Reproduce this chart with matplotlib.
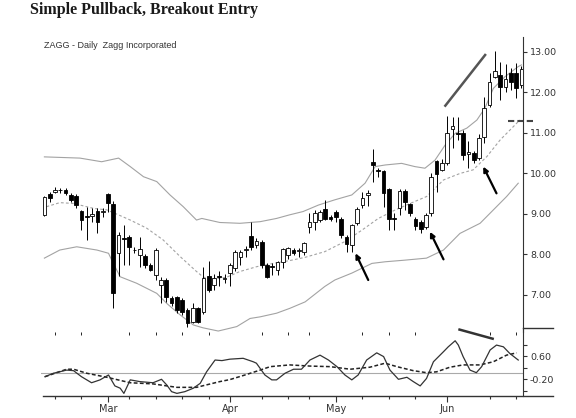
import matplotlib
matplotlib.use("Agg")
import matplotlib.pyplot as plt
import numpy as np
import pandas as pd
from matplotlib.lines import Line2D

# ZAGG daily bars, 10 Feb - 21 Jun 2011 (exchange holidays removed)
holidays = ["2011-02-21", "2011-04-22", "2011-05-30"]
dates = pd.bdate_range("2011-02-10", "2011-06-21").drop(pd.to_datetime(holidays))

opens = [8.98, 9.49, 9.54, 9.58, 9.59, 9.47, 9.45, 9.07, 8.95, 8.95, 9.07, 9.04,
         9.49, 9.24, 8.03, 8.40, 8.42, 8.12, 7.99, 7.97, 7.74, 7.49, 7.25, 7.36,
         6.92, 6.94, 6.88, 6.63, 6.34, 6.67, 6.59, 7.47, 7.25, 7.46, 7.40,
         7.54, 7.66, 7.95, 8.12, 8.46, 8.23, 8.32, 7.74, 7.72, 7.62, 7.82, 7.99,
         8.11, 8.09, 8.07, 8.69, 8.81, 8.85, 9.12, 8.92,
         9.06, 8.87, 8.44, 8.23, 8.77, 9.22, 9.48, 10.28, 10.08, 10.05, 9.61, 8.90,
         9.14, 9.57, 9.25, 8.87, 8.79, 8.67, 9.02, 10.30, 10.09,
         10.27, 11.09, 11.00, 10.99, 10.48, 10.50, 10.38, 10.91, 11.69, 12.39, 12.43,
         12.14, 12.49, 12.49, 12.19]
highs = [9.44, 9.54, 9.67, 9.64, 9.63, 9.52, 9.49, 9.10, 9.18, 9.15, 9.15, 9.15,
         9.52, 9.32, 8.56, 8.73, 8.48, 8.18, 8.44, 8.02, 7.80, 8.16, 7.45, 7.42,
         6.97, 6.97, 6.93, 6.68, 6.79, 6.70, 7.70, 7.85, 7.52, 7.58, 7.52,
         7.80, 8.10, 8.12, 8.20, 8.81, 8.40, 8.36, 7.78, 7.78, 7.85, 8.16, 8.18,
         8.15, 8.15, 8.30, 9.02, 9.10, 9.10, 9.35, 8.97,
         9.10, 8.92, 8.48, 8.75, 9.18, 9.55, 9.60, 10.60, 10.14, 10.09, 9.63, 9.02,
         9.61, 9.61, 9.28, 8.93, 8.84, 9.02, 10.00, 10.33, 10.35,
         11.42, 11.40, 11.39, 11.07, 10.79, 10.55, 10.97, 11.90, 12.49, 13.03, 12.76,
         12.70, 12.60, 12.72, 12.65]
lows = [8.96, 9.30, 9.51, 9.51, 9.47, 9.30, 9.15, 8.60, 8.36, 8.81, 8.53, 8.93,
        9.06, 6.68, 7.47, 7.74, 7.74, 8.03, 7.70, 7.66, 7.58, 7.37, 6.80, 6.83,
        6.73, 6.55, 6.50, 6.22, 6.30, 6.30, 6.53, 7.08, 7.12, 7.21, 7.30,
        7.21, 7.60, 7.75, 7.95, 8.11, 8.15, 7.66, 7.42, 7.50, 7.50, 7.66, 7.88,
        7.99, 7.95, 7.99, 8.52, 8.60, 8.80, 8.85, 8.83,
        8.80, 8.40, 8.07, 8.05, 8.73, 9.14, 9.20, 9.80, 9.92, 9.18, 8.60, 8.60,
        8.98, 9.10, 8.95, 8.60, 8.52, 8.62, 8.95, 9.55, 10.05,
        10.21, 10.62, 10.83, 10.33, 10.13, 10.25, 10.33, 10.75, 11.65, 12.35, 11.81,
        12.00, 12.05, 11.86, 12.10]
closes = [9.42, 9.40, 9.60, 9.60, 9.51, 9.35, 9.22, 8.85, 8.93, 9.00, 8.81, 9.07,
          9.26, 7.04, 8.48, 8.38, 8.19, 8.10, 8.14, 7.74, 7.62, 8.11, 7.37, 6.95,
          6.80, 6.63, 6.59, 6.32, 6.67, 6.34, 7.41, 7.12, 7.41, 7.44, 7.42,
          7.74, 8.07, 8.07, 8.14, 8.19, 8.34, 7.74, 7.44, 7.68, 7.82, 8.13, 8.15,
          8.04, 8.11, 8.28, 8.81, 9.02, 9.06, 8.87, 8.87,
          8.92, 8.48, 8.26, 8.73, 9.12, 9.40, 9.52, 10.20, 10.06, 9.53, 8.87, 8.88,
          9.57, 9.30, 9.02, 8.70, 8.62, 8.98, 9.92, 9.99, 10.27,
          11.01, 11.17, 10.98, 10.46, 10.54, 10.33, 10.87, 11.61, 12.27, 12.54, 12.14,
          12.33, 12.27, 12.10, 12.57]

# Bollinger bands and 20-day average (bar index, price)
upper_x = [0, 6.7, 10.8, 14, 16.2, 18.7, 21.2, 23.7, 26.2, 28.7, 29.7, 33.1, 36.9,
           40.7, 43.8, 46.3, 48.8, 51.7, 54.8, 58, 60.5, 62.4, 64.3, 67.4, 69.9,
           71.8, 73.7, 75.6, 77.5, 79.7, 81.6, 83.1, 84.7, 86.9, 89.4, 90]
upper_y = [10.41, 10.38, 10.29, 10.38, 10.17, 9.92, 9.80, 9.47, 9.18, 8.85, 8.89,
           8.79, 8.77, 8.81, 8.89, 8.98, 9.06, 9.22, 9.35, 9.47, 9.76, 10.17, 10.21,
           10.25, 10.17, 10.13, 10.33, 10.70, 10.99, 11.12, 11.32, 11.61, 12.10,
           12.39, 12.64, 12.68]
mid_x = [0.4, 2.9, 5.5, 9.2, 11.8, 13.6, 16.2, 19.3, 22.4, 25.6, 28.7, 30, 31.9,
         34.4, 36.9, 40.1, 43.2, 46.3, 49.2, 52.9, 56.7, 59.9, 63, 66.2, 69, 72.1,
         75.3, 78.4, 80.9, 83.5, 86, 88.5, 89.7]
mid_y = [9.18, 9.28, 9.26, 9.14, 9.10, 9.00, 8.85, 8.65, 8.36, 7.95, 7.58, 7.44,
         7.39, 7.44, 7.58, 7.70, 7.78, 7.85, 7.93, 8.07, 8.32, 8.60, 8.89, 9.10,
         9.26, 9.43, 9.84, 10.00, 10.09, 10.42, 10.83, 11.16, 11.32]
lower_x = [0, 2.9, 6.1, 9.9, 12.1, 13, 14.3, 17.4, 21.2, 23.1, 25.6, 28.1, 29.9,
           32.8, 36.3, 38.8, 40.7, 43.8, 46.3, 49.2, 52.9, 54.8, 58, 61.8, 64.3,
           68, 72.1, 75.3, 78.4, 82.2, 84.7, 87.2, 89.4]
lower_y = [7.91, 8.11, 8.19, 8.11, 8.03, 7.78, 7.45, 7.29, 7.04, 6.79, 6.51, 6.26,
           6.19, 6.11, 6.22, 6.42, 6.46, 6.55, 6.67, 6.83, 7.21, 7.37, 7.54, 7.78,
           7.82, 7.86, 7.91, 8.11, 8.52, 8.77, 9.10, 9.43, 9.76]

# lower panel oscillator and its signal line
osc_x = [0.1, 1.7, 4.2, 5.5, 7.0, 8.9, 10.5, 12.1, 13.3, 14.3, 15, 16.2, 18, 20.5,
         22.1, 23.1, 24, 25, 26.5, 28.1, 29.4, 30.6, 32.2, 33.5, 35, 37.5, 39.4, 40,
         41.6, 42.9, 43.8, 45.4, 47, 48.5, 50.1, 52, 53.6, 55.2, 56.7, 58, 59.2,
         60.8, 62.7, 64, 65.2, 66.8, 68.4, 69.6, 70.9, 72.1, 73.4, 75.3, 76.2, 77.5,
         78.1, 79, 80.3, 81.5, 82.5, 84.1, 85.3, 86.6, 87.8, 89.4]
osc_v = [-0.12, 0.0, 0.11, 0.09, -0.12, -0.33, -0.23, -0.06, -0.44, -0.52, -0.70,
         -0.23, -0.29, -0.33, -0.21, -0.41, -0.64, -0.70, -0.64, -0.52, -0.35, 0.05,
         0.46, 0.44, 0.49, 0.52, 0.40, 0.35, -0.06, -0.23, -0.23, 0.0, 0.14, 0.14,
         0.46, 0.63, 0.46, 0.23, -0.06, -0.23, -0.06, 0.46, 0.71, 0.58, 0.11, -0.21,
         -0.14, -0.29, -0.44, -0.18, 0.40, 0.75, 0.92, 1.13, 0.98, 0.58, 0.11, 0.02,
         0.23, 0.81, 0.98, 0.92, 0.69, 0.46]
sig_x = [0.1, 4.2, 5.5, 8, 11.8, 16.2, 20.5, 25, 28.7, 33.1, 35, 37.5, 40.7, 42.6,
         46.3, 50.1, 53.9, 57.7, 61.4, 64.3, 66.5, 69.6, 72.1, 74, 76.5, 79, 82.2,
         84.7, 87.2, 89.1]
sig_v = [-0.12, 0.14, 0.14, 0.0, -0.14, -0.33, -0.37, -0.49, -0.49, -0.29, -0.22,
         -0.08, 0.11, 0.23, 0.29, 0.25, 0.23, 0.14, 0.21, 0.35, 0.23, 0.09, 0.02,
         0.05, 0.21, 0.29, 0.29, 0.40, 0.63, 0.71]

# hand-drawn annotations (bar index, value)
trend_x, trend_y = [75.5, 83.3], [11.65, 12.95]
osc_trend_x, osc_trend_v = [78.1, 84.8], [1.53, 1.19]
arrow_tails = [(61.1, 7.37), (75.3, 7.88), (85.3, 9.51)]
arrow_heads = [(58.7, 8.03), (72.75, 8.56), (82.8, 10.17)]
stop_x, stop_level = [87.5, 92.2], 11.30

price_ticks = [7, 8, 9, 10, 11, 12, 13]
osc_ticks = [1.0, 0.6, 0.2, -0.2, -0.6]
osc_labels = ["", "0.60", "", "-0.20", ""]

W, H = 576, 418
INK = "#333333"
BAND = "#a3a3a3"


def box(x0, y0, x1, y1):
    return [x0 / W, 1 - y1 / H, (x1 - x0) / W, (y1 - y0) / H]


fig = plt.figure(figsize=(W / 100, H / 100), dpi=100)
osc = fig.add_axes(box(41, 328, 523, 396))
ax = fig.add_axes(box(41, 37, 523, 332), sharex=osc)
ax.patch.set_visible(False)

idx = np.arange(len(dates))
o, h, l, c = map(np.asarray, (opens, highs, lows, closes))
up = c >= o

ax.plot(upper_x, upper_y, color=BAND, lw=0.8, zorder=1)
ax.plot(lower_x, lower_y, color=BAND, lw=0.8, zorder=1)
ax.plot(mid_x, mid_y, color=BAND, lw=0.8, ls=(0, (2.5, 2)), zorder=1)

ax.vlines(idx, l, h, color="black", lw=0.7, zorder=2)
ax.bar(idx, np.maximum(np.abs(c - o), 0.015), bottom=np.minimum(o, c), width=0.7,
       color=np.where(up, "white", "black"), edgecolor="black", linewidth=0.6,
       zorder=3)

ax.plot(trend_x, trend_y, color="#555555", lw=1.8, solid_capstyle="butt")
for tail, head in zip(arrow_tails, arrow_heads):
    ax.annotate("", xy=head, xytext=tail,
                arrowprops=dict(arrowstyle="-|>", color="black", lw=1.6,
                                mutation_scale=7, shrinkA=0, shrinkB=0))
ax.plot(stop_x, [stop_level] * 2, color="#444444", lw=1.5, ls=(0, (3, 1.5)),
        clip_on=False)

ax.set_xlim(-0.64, 90.3)
ax.set_ylim(6.086, 13.37)
ax.yaxis.tick_right()
ax.set_yticks(price_ticks)
ax.set_yticklabels([f"{p:.2f}" for p in price_ticks])
ax.tick_params(axis="y", direction="out", length=3, width=0.8, color=INK,
               labelsize=6.8, labelcolor=INK, pad=2)
ax.tick_params(axis="x", length=0, labelbottom=False)
for side in ("top", "left", "bottom"):
    ax.spines[side].set_visible(False)
ax.spines["right"].set_color(INK)

osc.axhline(0, color="#aaaaaa", lw=0.8, zorder=1)
osc.plot(sig_x, sig_v, color="#222222", lw=1.1, ls=(0, (2.5, 1.5)), zorder=2)
osc.plot(osc_x, osc_v, color=INK, lw=0.9, zorder=3)
osc.plot(osc_trend_x, osc_trend_v, color=INK, lw=1.8, solid_capstyle="butt")
osc.set_ylim(-0.791, 1.574)
osc.yaxis.tick_right()
osc.set_yticks(osc_ticks)
osc.set_yticklabels(osc_labels)
osc.tick_params(axis="y", direction="out", length=3, width=0.8, color=INK,
                labelsize=6.8, labelcolor=INK, pad=2)
for side in ("top", "left", "bottom"):
    osc.spines[side].set_visible(False)
osc.spines["right"].set_color(INK)

# month ticks on first session of month, week ticks on first session of week
months = dates.month
month_starts = [i for i in range(1, len(dates)) if months[i] != months[i - 1]]
weeks = dates.isocalendar().week.values
week_starts = [i for i in range(1, len(dates)) if weeks[i] != weeks[i - 1]
               and min(abs(i - m) for m in month_starts) > 3]
osc.set_xticks(month_starts)
osc.set_xticklabels([dates[i].strftime("%b") for i in month_starts])
osc.set_xticks(week_starts, minor=True)
osc.tick_params(axis="x", which="major", direction="out", length=4, width=0.8,
                color=INK, labelsize=7, labelcolor=INK, pad=1.5)
osc.tick_params(axis="x", which="minor", direction="out", length=2.5, width=0.8,
                color=INK)

fig.add_artist(Line2D([43 / W, 553 / W], [1 - 396 / H] * 2, transform=fig.transFigure,
                      color=INK, lw=1.0))
fig.add_artist(Line2D([523 / W, 553 / W], [1 - 328 / H] * 2, transform=fig.transFigure,
                      color=INK, lw=1.0))

fig.text(30 / W, 1 - 10 / H, "Simple Pullback, Breakout Entry",
         family="Liberation Serif", weight="bold", size=11.5, va="center",
         color="#1a1a1a")
fig.text(44 / W, 1 - 45 / H, "ZAGG - Daily  Zagg Incorporated",
         family="Liberation Sans", size=6.5, va="center", color=INK)

fig.savefig("out.png", dpi=100)
